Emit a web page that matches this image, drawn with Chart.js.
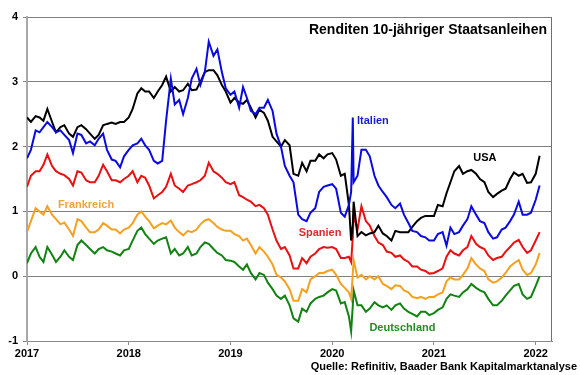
<!DOCTYPE html>
<html>
<head>
<meta charset="utf-8">
<script src="https://cdn.jsdelivr.net/npm/chart.js@4"></script>
<style>
  html, body { margin: 0; padding: 0; background: #fff; }
  #wrap { width: 580px; height: 375px; }
</style>
</head>
<body>
<div id="wrap"><canvas id="yieldChart" width="580" height="375"></canvas></div>
<script>
// half-monthly readings (1st and 15th), plus two extra days in March 2020
const extraDates = ['2020-03-09', '2020-03-18'];
const yearTicks = [2017, 2018, 2019, 2020, 2021, 2022];
const yTicks = [-1, 0, 1, 2, 3, 4];

const usa = [
  2.45, 2.38, 2.47, 2.45, 2.40, 2.58, 2.38, 2.22, 2.30, 2.33, 2.20, 2.15, 2.30, 2.33, 2.27, 2.20, 2.12, 2.18, 2.33, 2.35, 2.37, 2.35, 2.38, 2.38,
  2.45, 2.58, 2.82, 2.90, 2.85, 2.85, 2.75, 2.85, 2.95, 3.08, 2.85, 2.92, 2.85, 2.87, 2.97, 2.87, 2.88, 3.00, 3.15, 3.18, 3.18, 3.10, 2.95, 2.85,
  2.68, 2.75, 2.68, 2.66, 2.72, 2.60, 2.45, 2.57, 2.52, 2.40, 2.15, 2.08, 2.00, 2.10, 2.02, 1.58, 1.55, 1.75, 1.62, 1.78, 1.78, 1.88, 1.82, 1.88,
  1.90, 1.80, 1.55, 1.58, 1.10, 0.55, 0.80, 1.15, 0.62, 0.68, 0.63, 0.66, 0.68, 0.78, 0.66, 0.62, 0.55, 0.70, 0.68, 0.68, 0.68, 0.76, 0.85, 0.90, 0.93, 0.93,
  0.93, 1.10, 1.08, 1.28, 1.45, 1.62, 1.70, 1.58, 1.62, 1.64, 1.58, 1.50, 1.45, 1.30, 1.22, 1.27, 1.32, 1.35, 1.50, 1.60, 1.55, 1.58, 1.44, 1.45,
  1.58, 1.86
];

const italien = [
  1.82, 1.95, 2.25, 2.22, 2.30, 2.38, 2.30, 2.22, 2.25, 2.18, 2.10, 1.90, 2.20, 2.18, 2.05, 2.08, 2.02, 2.12, 2.20, 1.95, 1.80, 1.78, 1.68, 1.85,
  1.95, 2.02, 2.05, 2.12, 2.02, 1.95, 1.78, 1.74, 1.78, 2.40, 3.05, 2.65, 2.72, 2.50, 2.75, 3.05, 3.20, 2.95, 3.15, 3.62, 3.40, 3.50, 3.15, 2.90,
  2.80, 2.85, 2.60, 2.92, 2.75, 2.55, 2.50, 2.60, 2.60, 2.72, 2.55, 2.20, 2.00, 1.70, 1.55, 1.45, 0.95, 0.88, 0.85, 0.98, 1.05, 1.30, 1.38, 1.40,
  1.42, 1.35, 0.98, 0.92, 1.10, 1.30, 2.45, 1.45, 1.55, 1.95, 1.95, 1.85, 1.55, 1.40, 1.30, 1.22, 1.10, 1.05, 1.12, 0.95, 0.82, 0.70, 0.68, 0.62, 0.60, 0.55,
  0.55, 0.65, 0.68, 0.47, 0.75, 0.65, 0.68, 0.78, 0.88, 1.08, 0.95, 0.85, 0.82, 0.68, 0.58, 0.60, 0.72, 0.75, 0.85, 0.95, 1.15, 0.95, 0.95, 0.98,
  1.18, 1.40
];

const spanien = [
  1.38, 1.55, 1.62, 1.62, 1.72, 1.88, 1.70, 1.62, 1.58, 1.56, 1.50, 1.40, 1.62, 1.60, 1.48, 1.45, 1.45, 1.55, 1.72, 1.62, 1.48, 1.48, 1.45, 1.50,
  1.55, 1.62, 1.45, 1.55, 1.52, 1.40, 1.20, 1.25, 1.30, 1.38, 1.58, 1.40, 1.35, 1.30, 1.40, 1.42, 1.45, 1.48, 1.55, 1.75, 1.62, 1.58, 1.52, 1.45,
  1.42, 1.45, 1.25, 1.22, 1.18, 1.15, 1.08, 1.10, 1.05, 0.95, 0.72, 0.55, 0.42, 0.45, 0.32, 0.12, 0.12, 0.28, 0.20, 0.30, 0.35, 0.42, 0.45, 0.44,
  0.45, 0.42, 0.28, 0.28, 0.30, 0.22, 0.60, 0.95, 0.72, 1.08, 0.85, 0.78, 0.62, 0.52, 0.48, 0.38, 0.36, 0.30, 0.32, 0.26, 0.22, 0.15, 0.15, 0.10, 0.08, 0.04,
  0.05, 0.08, 0.12, 0.30, 0.40, 0.35, 0.32, 0.40, 0.45, 0.62, 0.50, 0.45, 0.42, 0.32, 0.25, 0.28, 0.30, 0.38, 0.45, 0.52, 0.56, 0.45, 0.36, 0.40,
  0.55, 0.68
];

const frankreich = [
  0.68, 0.85, 1.05, 1.00, 0.95, 1.08, 0.95, 0.88, 0.80, 0.83, 0.72, 0.62, 0.88, 0.85, 0.75, 0.68, 0.68, 0.72, 0.82, 0.78, 0.72, 0.72, 0.66, 0.72,
  0.75, 0.82, 0.95, 1.00, 0.92, 0.85, 0.74, 0.78, 0.82, 0.80, 0.86, 0.75, 0.68, 0.63, 0.70, 0.68, 0.72, 0.80, 0.86, 0.88, 0.82, 0.76, 0.72, 0.70,
  0.70, 0.65, 0.62, 0.55, 0.58, 0.48, 0.35, 0.45, 0.38, 0.30, 0.18, 0.02, -0.02, -0.08, -0.20, -0.38, -0.38, -0.20, -0.25, -0.05, 0.00, 0.05, 0.05, 0.08,
  0.10, 0.02, -0.12, -0.18, -0.25, -0.35, 0.05, 0.25, -0.02, 0.02, -0.05, 0.00, -0.05, 0.00, -0.12, -0.15, -0.20, -0.14, -0.15, -0.22, -0.25, -0.32, -0.34, -0.32, -0.35, -0.32,
  -0.32, -0.28, -0.25, -0.08, -0.02, -0.05, -0.05, 0.02, 0.12, 0.28, 0.18, 0.12, 0.08, -0.05, -0.10, -0.08, -0.02, 0.05, 0.15, 0.20, 0.25, 0.10, 0.02, 0.05,
  0.18, 0.36
];

const deutschland = [
  0.20, 0.35, 0.45, 0.30, 0.22, 0.45, 0.33, 0.22, 0.30, 0.40, 0.30, 0.25, 0.48, 0.55, 0.48, 0.42, 0.35, 0.42, 0.45, 0.40, 0.38, 0.35, 0.32, 0.40,
  0.42, 0.55, 0.70, 0.75, 0.65, 0.58, 0.50, 0.55, 0.58, 0.60, 0.35, 0.42, 0.32, 0.35, 0.45, 0.32, 0.35, 0.45, 0.52, 0.50, 0.42, 0.36, 0.32, 0.25,
  0.24, 0.22, 0.15, 0.10, 0.18, 0.05, -0.05, 0.05, 0.02, -0.10, -0.20, -0.30, -0.35, -0.30, -0.45, -0.65, -0.70, -0.50, -0.55, -0.42, -0.35, -0.32, -0.30, -0.25,
  -0.20, -0.22, -0.42, -0.40, -0.62, -0.85, -0.45, -0.22, -0.45, -0.45, -0.55, -0.50, -0.40, -0.45, -0.48, -0.45, -0.52, -0.45, -0.42, -0.50, -0.55, -0.58, -0.62, -0.55, -0.55, -0.60,
  -0.57, -0.52, -0.48, -0.35, -0.28, -0.30, -0.32, -0.25, -0.20, -0.12, -0.18, -0.22, -0.25, -0.35, -0.45, -0.45, -0.38, -0.30, -0.22, -0.15, -0.12, -0.28, -0.35, -0.32,
  -0.15, 0.00
];

// build the date list and turn it into fractional years
const dates = [];
for (let y = 2017; y <= 2021; y++) {
  for (let m = 1; m <= 12; m++) {
    const mm = String(m).padStart(2, '0');
    dates.push(`${y}-${mm}-01`, `${y}-${mm}-15`);
  }
}
dates.push('2022-01-01', '2022-01-15', ...extraDates);
dates.sort();

function toYear(s) {
  const [y, m, d] = s.split('-').map(Number);
  const start = Date.UTC(y, 0, 1);
  const end = Date.UTC(y + 1, 0, 1);
  return y + (Date.UTC(y, m - 1, d) - start) / (end - start);
}
const xs = dates.map(toYear);

function points(values) {
  return values.map((v, i) => ({ x: xs[i], y: v }));
}

const FONT = "'Liberation Sans', Arial, sans-serif";

// text labels inside the plot, placed in data coordinates
const seriesLabels = [
  { text: 'Italien', x: 2020.40, y: 2.39, color: '#1a1ad4' },
  { text: 'USA', x: 2021.50, y: 1.83, color: '#000000' },
  { text: 'Frankreich', x: 2017.58, y: 1.10, color: '#f2a43c' },
  { text: 'Spanien', x: 2019.88, y: 0.66, color: '#e02a2a' },
  { text: 'Deutschland', x: 2020.69, y: -0.80, color: '#238c23' }
];

const decorations = {
  id: 'decorations',
  afterDatasetsDraw(chart) {
    const { ctx, chartArea, scales } = chart;
    ctx.save();
    // right border of the plot
    ctx.strokeStyle = '#707070';
    ctx.lineWidth = 1;
    ctx.beginPath();
    ctx.moveTo(chartArea.right - 0.5, chartArea.top);
    ctx.lineTo(chartArea.right - 0.5, chartArea.bottom);
    ctx.stroke();

    ctx.textBaseline = 'middle';
    ctx.textAlign = 'center';
    ctx.font = `bold 11px ${FONT}`;
    seriesLabels.forEach(l => {
      ctx.fillStyle = l.color;
      ctx.fillText(l.text, scales.x.getPixelForValue(l.x), scales.y.getPixelForValue(l.y));
    });

    ctx.fillStyle = '#000';
    ctx.textAlign = 'right';
    ctx.font = `bold 14px ${FONT}`;
    ctx.fillText('Renditen 10-jähriger Staatsanleihen', 547, 30);
    ctx.font = `bold 11px ${FONT}`;
    ctx.fillText('Quelle: Refinitiv, Baader Bank Kapitalmarktanalyse', 577, 367);
    ctx.restore();
  }
};

const ctx = document.getElementById('yieldChart').getContext('2d');
const yieldChart = new Chart(ctx, {
  type: 'line',
  data: {
    datasets: [
      { label: 'Italien', data: points(italien), borderColor: '#0a0ae0' },
      { label: 'USA', data: points(usa), borderColor: '#000000' },
      { label: 'Spanien', data: points(spanien), borderColor: '#e81010' },
      { label: 'Frankreich', data: points(frankreich), borderColor: '#f5a020' },
      { label: 'Deutschland', data: points(deutschland), borderColor: '#128212' }
    ].map(d => Object.assign(d, { borderWidth: 2, pointRadius: 0, tension: 0, fill: false }))
  },
  options: {
    responsive: false,
    animation: false,
    devicePixelRatio: 1,
    layout: { padding: { top: 17, right: 28, left: 0, bottom: 0 } },
    plugins: {
      legend: { display: false },
      tooltip: { enabled: false }
    },
    scales: {
      x: {
        type: 'linear',
        min: 2017,
        max: 2022.16,
        afterBuildTicks: s => { s.ticks = yearTicks.map(v => ({ value: v })); },
        afterFit: s => { s.height = 34; },
        ticks: {
          padding: 2,
          maxRotation: 0,
          color: '#000',
          font: { family: FONT, size: 11, weight: 'bold' },
          callback: v => String(v)
        },
        grid: { drawOnChartArea: false, tickLength: 4, color: '#8c8c8c' },
        border: { color: '#8c8c8c' }
      },
      y: {
        min: -1,
        max: 4,
        afterBuildTicks: s => { s.ticks = yTicks.map(v => ({ value: v })); },
        afterFit: s => { s.width = 27; },
        ticks: {
          padding: 5,
          color: '#000',
          font: { family: FONT, size: 11, weight: 'bold' }
        },
        grid: { color: '#808080', tickLength: 4 },
        border: { color: '#a8a8a8', width: 2 }
      }
    }
  },
  plugins: [decorations]
});
</script>
</body>
</html>
